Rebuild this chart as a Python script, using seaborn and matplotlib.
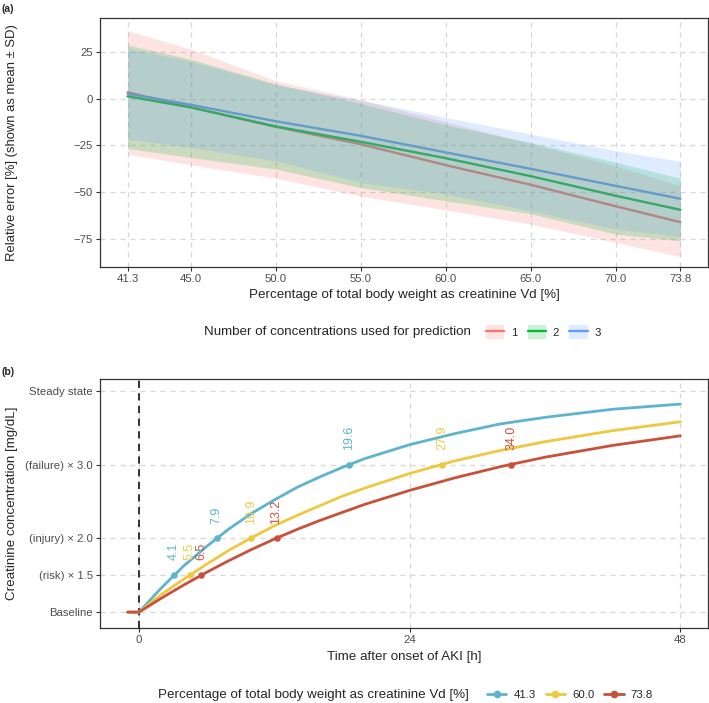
import numpy as np
import pandas as pd
import matplotlib
matplotlib.use('Agg')
import matplotlib.pyplot as plt
import seaborn as sns
from matplotlib.patches import Patch
from matplotlib.lines import Line2D

# ---- panel (a): relative error vs Vd, mean +- SD ----
vd_pct = [41.3, 45.0, 50.0, 55.0, 60.0, 65.0, 70.0, 73.8]
n_conc = ['1', '2', '3']
mean_1 = [3.5, -4.5, -15.0, -24.3, -35.5, -46.0, -57.5, -66.0]
mean_2 = [1.3, -4.6, -14.8, -23.0, -31.8, -41.4, -51.9, -59.4]
mean_3 = [2.7, -3.2, -12.0, -19.8, -28.7, -37.5, -46.6, -53.5]
upper_1 = [36.4, 26.6, 9.6, -0.5, -12.3, -24.0, -36.0, -46.5]
lower_1 = [-29.6, -35.3, -42.5, -52.0, -59.5, -67.0, -76.9, -84.4]
upper_2 = [28.7, 21.2, 8.0, -2.5, -14.0, -23.4, -34.0, -42.6]
lower_2 = [-26.6, -31.4, -37.6, -47.5, -54.6, -61.5, -72.4, -76.0]
upper_3 = [27.1, 20.0, 7.5, -0.8, -10.0, -18.9, -27.8, -33.5]
lower_3 = [-21.6, -26.0, -33.2, -44.8, -51.0, -60.0, -69.7, -73.7]
a_xticks = [41.3, 45.0, 50.0, 55.0, 60.0, 65.0, 70.0, 73.8]
a_yticks = [25, 0, -25, -50, -75]

# ---- panel (b): creatinine rise after AKI onset ----
time_h = [-1, 0, 2, 4, 6, 8, 10, 12, 14, 16, 18, 20, 24, 28, 32, 36, 42, 48]
crea_413 = [1.0, 1.0, 1.33, 1.63, 1.89, 2.13, 2.34, 2.52, 2.69, 2.83, 2.96, 3.08, 3.27, 3.42, 3.55, 3.64, 3.75, 3.82]
crea_600 = [1.0, 1.0, 1.24, 1.45, 1.65, 1.84, 2.01, 2.17, 2.31, 2.44, 2.57, 2.68, 2.88, 3.05, 3.19, 3.31, 3.46, 3.58]
crea_738 = [1.0, 1.0, 1.19, 1.37, 1.54, 1.70, 1.85, 1.99, 2.12, 2.24, 2.35, 2.46, 2.65, 2.82, 2.97, 3.10, 3.26, 3.39]
vd_groups = ['41.3', '60.0', '73.8']
mark_level = [1.5, 2.0, 3.0]
mark_t_413 = [3.1, 6.9, 18.6]
mark_t_600 = [4.5, 9.9, 26.9]
mark_t_738 = [5.5, 12.2, 33.0]
mark_lab_413 = ['4.1', '7.9', '19.6']
mark_lab_600 = ['5.5', '10.9', '27.9']
mark_lab_738 = ['6.5', '13.2', '34.0']
b_yticks = [1.0, 1.5, 2.0, 3.0, 4.0]
b_ylabels = ['Baseline', '(risk) \u00d7 1.5', '(injury) \u00d7 2.0', '(failure) \u00d7 3.0', 'Steady state']
b_xticks = [0, 24, 48]

sns.set_style('white')
plt.rcParams['font.family'] = ['Liberation Sans', 'DejaVu Sans']

pal_a = ['#F8766D', '#00BA38', '#619CFF']
pal_b = ['#5DB4CE', '#EEC83F', '#C9513A']
grid_c = '#D6D6D6'
tick_c = '#4D4D4D'
title_fs = 9.6

fig = plt.figure(figsize=(7.09, 7.03), dpi=100)
ax1 = fig.add_axes([100/709, 1-267/703, 608/709, 249/703])
ax2 = fig.add_axes([100/709, 1-628/703, 608/709, 249/703])


def style_axes(ax):
    ax.set_axisbelow(True)
    ax.grid(True, color=grid_c, linestyle=(0, (4, 4)), linewidth=0.9)
    for s in ax.spines.values():
        s.set_color('#333333')
        s.set_linewidth(0.9)
    ax.tick_params(axis='both', direction='out', length=3, width=0.8, color='#333333',
                   labelsize=8.2, labelcolor=tick_c, pad=2, left=True, bottom=True)


# panel (a)
df_a = pd.DataFrame({
    'vd': vd_pct * 3,
    'err': mean_1 + mean_2 + mean_3,
    'n': [n_conc[0]] * 8 + [n_conc[1]] * 8 + [n_conc[2]] * 8,
})
sns.lineplot(data=df_a, x='vd', y='err', hue='n', palette=pal_a, linewidth=1.7,
             legend=False, ax=ax1, zorder=1)
for lo, hi, c in zip([lower_1, lower_2, lower_3], [upper_1, upper_2, upper_3], pal_a):
    ax1.fill_between(vd_pct, lo, hi, color=c, alpha=0.2, linewidth=0, zorder=2)
ax1.set_xlim(39.675, 75.425)
ax1.set_ylim(-90.0, 43.2)
ax1.set_xticks(a_xticks)
ax1.set_xticklabels([f'{v:.1f}' for v in a_xticks])
ax1.set_yticks(a_yticks)
style_axes(ax1)
ax1.set_xlabel('Percentage of total body weight as creatinine Vd [%]', fontsize=title_fs)
ax1.set_ylabel('Relative error [%] (shown as mean \u00b1 SD)', fontsize=9.4)
ax1.xaxis.set_label_coords(0.5, -0.088)
ax1.yaxis.set_label_coords(-0.135, 0.5)

# panel (b)
df_b = pd.DataFrame({
    't': time_h * 3,
    'c': crea_413 + crea_600 + crea_738,
    'vd': [vd_groups[0]] * len(time_h) + [vd_groups[1]] * len(time_h) + [vd_groups[2]] * len(time_h),
})
ax2.axvline(0, color='#222222', linestyle=(0, (4, 3)), linewidth=1.3, zorder=1)
sns.lineplot(data=df_b, x='t', y='c', hue='vd', palette=pal_b, linewidth=2.0,
             legend=False, ax=ax2, zorder=2)
for ts, labs, c in zip([mark_t_413, mark_t_600, mark_t_738],
                       [mark_lab_413, mark_lab_600, mark_lab_738], pal_b):
    ax2.scatter(ts, mark_level, s=22, color=c, zorder=3, linewidths=0)
    for t, lv, lab in zip(ts, mark_level, labs):
        ax2.text(t, lv + 0.2, lab, rotation=90, ha='center', va='bottom',
                 color=c, fontsize=9)
ax2.set_xlim(-3.45, 50.45)
ax2.set_ylim(0.785, 4.16)
ax2.set_xticks(b_xticks)
ax2.set_yticks(b_yticks)
ax2.set_yticklabels(b_ylabels)
style_axes(ax2)
ax2.set_xlabel('Time after onset of AKI [h]', fontsize=title_fs)
ax2.set_ylabel('Creatinine concentration [mg/dL]', fontsize=title_fs)
ax2.xaxis.set_label_coords(0.5, -0.092)
ax2.yaxis.set_label_coords(-0.135, 0.5)

# panel tags
fig.text(2/709, 1-9/703, '(a)', fontsize=7.5, fontweight='bold', va='center', ha='left')
fig.text(2/709, 1-372/703, '(b)', fontsize=7.5, fontweight='bold', va='center', ha='left')

# legend (a)
fig.text(204/709, 1-332/703, 'Number of concentrations used for prediction',
         fontsize=title_fs, va='center', ha='left')
h_a = [(Patch(facecolor=c, alpha=0.2, edgecolor='none'), Line2D([], [], color=c, linewidth=1.7))
       for c in pal_a]
fig.legend(h_a, n_conc, loc='center left', bbox_to_anchor=(486/709, 1-332/703), ncol=3,
           frameon=False, fontsize=8.2, handlelength=1.6, handleheight=1.4,
           handletextpad=0.6, columnspacing=0.9, borderpad=0, borderaxespad=0)

# legend (b)
fig.text(158/709, 1-695/703, 'Percentage of total body weight as creatinine Vd [%]',
         fontsize=title_fs, va='center', ha='left')
h_b = [Line2D([], [], color=c, linewidth=2.0, marker='o', markersize=4.5) for c in pal_b]
fig.legend(h_b, vd_groups, loc='center left', bbox_to_anchor=(487/709, 1-695/703), ncol=3,
           frameon=False, fontsize=8.2, handlelength=1.7,
           handletextpad=0.6, columnspacing=0.9, borderpad=0, borderaxespad=0)

fig.savefig('out.png', dpi=100)
